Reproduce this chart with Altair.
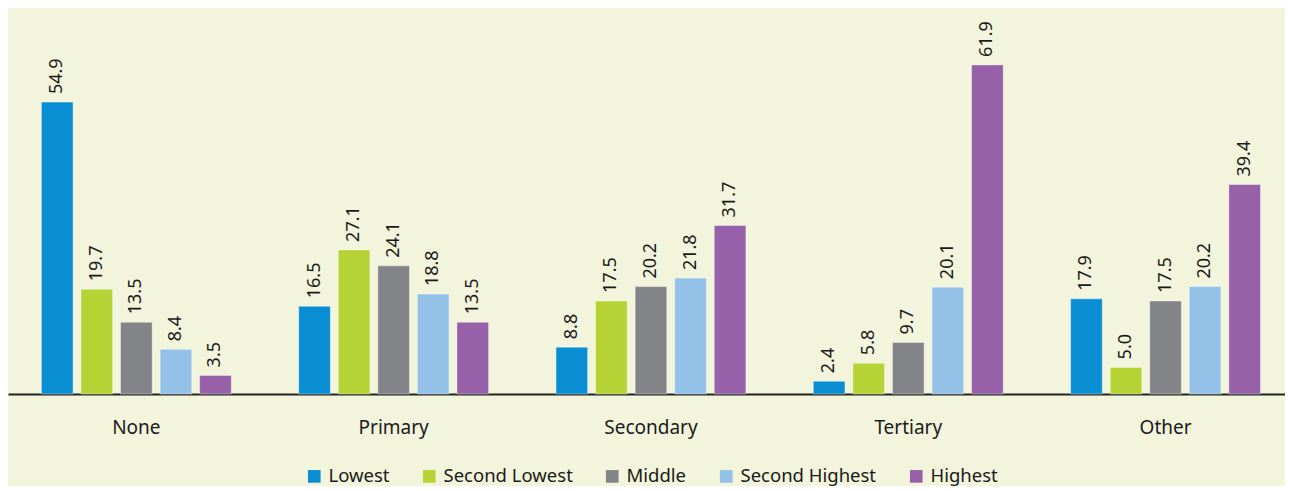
import altair as alt
import pandas as pd

categories = ["None", "Primary", "Secondary", "Tertiary", "Other"]
groups = ["Lowest", "Second Lowest", "Middle", "Second Highest", "Highest"]
lowest = [54.9, 16.5, 8.8, 2.4, 17.9]
second_lowest = [19.7, 27.1, 17.5, 5.8, 5.0]
middle = [13.5, 24.1, 20.2, 9.7, 17.5]
second_highest = [8.4, 18.8, 21.8, 20.1, 20.2]
highest = [3.5, 13.5, 31.7, 61.9, 39.4]
colors = ["#0a8ed3", "#b5d334", "#838488", "#93c1e8", "#9661a8"]

series = [lowest, second_lowest, middle, second_highest, highest]
rows = []
for g, vals in zip(groups, series):
    for c, v in zip(categories, vals):
        rows.append({"category": c, "group": g, "value": v, "label": f"{v:.1f}"})
df = pd.DataFrame(rows)

FONT = "Noto Sans"
TXT = "#1a1a1a"

x = alt.X("category:N", sort=categories, title=None,
          scale=alt.Scale(paddingInner=0.262, paddingOuter=0.1125, align=0.577),
          axis=alt.Axis(labelAngle=0, labelFontSize=19, labelFont=FONT, labelColor=TXT,
                        labelPadding=24, ticks=False, domainColor="#222", domainWidth=2))
xo = alt.XOffset("group:N", sort=groups, scale=alt.Scale(paddingInner=0.2, paddingOuter=0))
y = alt.Y("value:Q", scale=alt.Scale(domain=[0, 72.6], nice=False), axis=None)

bars = alt.Chart(df).mark_bar(stroke="#ffffff", strokeOpacity=0.4, strokeWidth=1).encode(
    x=x, xOffset=xo, y=y,
    color=alt.Color("group:N", sort=groups,
                    scale=alt.Scale(domain=groups, range=colors),
                    legend=alt.Legend(title=None, orient="none", direction="horizontal",
                                      legendX=297, legendY=459,
                                      symbolType="square", symbolSize=160, symbolStrokeWidth=0,
                                      labelFontSize=18.5, labelFont=FONT, labelColor=TXT,
                                      labelLimit=400, columnPadding=30, labelOffset=5)),
)

text = alt.Chart(df).mark_text(angle=270, align="left", baseline="middle", dx=8,
                               fontSize=18, font=FONT, color=TXT).encode(
    x=x, xOffset=xo, y=y, text="label:N"
)

chart = (bars + text).properties(width=1277, height=386, padding=0,
                                 background="#f2f5dc").configure_view(stroke=None)

chart.save("out.html", embed_options={"renderer": "svg", "actions": False})
